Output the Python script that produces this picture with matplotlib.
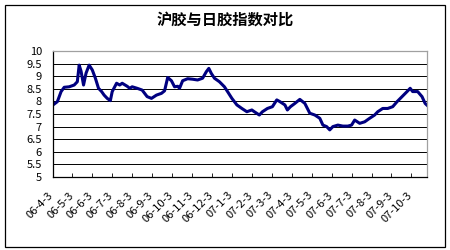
import matplotlib.pyplot as plt
import matplotlib.transforms as mtransforms
from matplotlib.patches import Rectangle
import pandas as pd

plt.rcParams['font.family'] = ['Noto Sans CJK SC', 'DejaVu Sans']

# Ratio
dates = ['2006-03-03', '2006-03-10', '2006-03-16', '2006-03-21', '2006-03-29',
         '2006-04-06', '2006-04-11', '2006-04-14', '2006-04-17', '2006-04-21',
         '2006-04-25', '2006-04-30', '2006-05-05', '2006-05-10', '2006-05-15',
         '2006-05-20', '2006-05-24', '2006-05-29', '2006-06-03', '2006-06-06',
         '2006-06-13', '2006-06-18', '2006-06-22', '2006-06-30', '2006-07-04',
         '2006-07-08', '2006-07-16', '2006-07-24', '2006-08-01', '2006-08-08',
         '2006-08-16', '2006-08-24', '2006-08-29', '2006-09-03', '2006-09-09',
         '2006-09-14', '2006-09-19', '2006-09-22', '2006-09-27', '2006-10-05',
         '2006-10-13', '2006-10-21', '2006-10-29', '2006-11-04', '2006-11-08',
         '2006-11-12', '2006-11-17', '2006-11-25', '2006-12-03', '2006-12-08',
         '2006-12-15', '2006-12-23', '2006-12-31', '2007-01-08', '2007-01-16',
         '2007-01-20', '2007-01-28', '2007-02-02', '2007-02-10', '2007-02-18',
         '2007-02-25', '2007-03-02', '2007-03-10', '2007-03-14', '2007-03-19',
         '2007-03-26', '2007-04-03', '2007-04-11', '2007-04-19', '2007-04-27',
         '2007-05-05', '2007-05-10', '2007-05-16', '2007-05-21', '2007-05-26',
         '2007-06-03', '2007-06-11', '2007-06-19', '2007-06-25', '2007-06-30',
         '2007-07-08', '2007-07-16', '2007-07-24', '2007-08-01', '2007-08-06',
         '2007-08-14', '2007-08-22', '2007-08-30', '2007-09-06', '2007-09-14',
         '2007-09-22', '2007-09-27', '2007-10-01', '2007-10-09', '2007-10-16',
         '2007-10-21', '2007-10-24']
ratio = [7.86, 7.99, 8.39, 8.56, 8.58,
         8.65, 8.78, 9.44, 9.20, 8.65,
         9.12, 9.44, 9.25, 8.92, 8.52,
         8.39, 8.25, 8.12, 8.03, 8.39,
         8.72, 8.65, 8.72, 8.60, 8.52,
         8.58, 8.52, 8.45, 8.19, 8.12,
         8.25, 8.32, 8.42, 8.95, 8.82,
         8.58, 8.60, 8.52, 8.82, 8.90,
         8.88, 8.85, 8.92, 9.18, 9.31,
         9.11, 8.92, 8.78, 8.58, 8.39,
         8.12, 7.86, 7.72, 7.59, 7.66,
         7.59, 7.46, 7.59, 7.72, 7.79,
         8.06, 7.99, 7.86, 7.66, 7.79,
         7.92, 8.08, 7.92, 7.53, 7.46,
         7.33, 7.06, 7.00, 6.87, 7.00,
         7.06, 7.02, 7.02, 7.06, 7.26,
         7.13, 7.19, 7.33, 7.46, 7.59,
         7.72, 7.72, 7.79, 7.99, 8.19,
         8.39, 8.52, 8.39, 8.39, 8.19,
         7.92, 7.85]

tick_labels = ['06-4-3', '06-5-3', '06-6-3', '06-7-3', '06-8-3', '06-9-3',
               '06-10-3', '06-11-3', '06-12-3', '07-1-3', '07-2-3', '07-3-3',
               '07-4-3', '07-5-3', '07-6-3', '07-7-3', '07-8-3', '07-9-3',
               '07-10-3']
y_ticks = [5, 5.5, 6, 6.5, 7, 7.5, 8, 8.5, 9, 9.5, 10]

x = pd.to_datetime(dates)
# the original category axis spaces its labels evenly (about 32 days apart)
label_pos = pd.date_range('2006-04-03', periods=len(tick_labels), freq='32D')

fig = plt.figure(figsize=(4.5, 2.5), dpi=100)
ax = fig.add_axes([53 / 450, 1 - 177 / 250, 374 / 450, 126 / 250])

ax.plot(x, ratio, color='#000080', linewidth=2.2)

ax.set_xlim(pd.Timestamp('2006-03-03'), pd.Timestamp('2007-10-24'))
ax.set_ylim(5, 10)
ax.set_yticks(y_ticks)
ax.set_yticklabels(['%g' % v for v in y_ticks])
ax.yaxis.grid(True, color='black', linewidth=0.7)
ax.set_axisbelow(True)

ax.set_xticks(label_pos[:-1])
ax.set_xticklabels([])
ax.tick_params(axis='x', direction='in', length=3, width=0.6)
ax.tick_params(axis='y', length=0, pad=8, labelsize=8)

# rotated labels sit below and to the left of each tick
trans = mtransforms.blended_transform_factory(ax.transData, ax.transAxes)
offset = mtransforms.ScaledTranslation(-24 / 100, -13 / 100, fig.dpi_scale_trans)
for pos, lab in zip(label_pos, tick_labels):
    ax.text(pos, 0, lab, transform=trans + offset, rotation=45,
            ha='right', va='top', rotation_mode='anchor', fontsize=8,
            clip_on=False)

for side in ['top', 'right']:
    ax.spines[side].set_color('#a0a0a0')
for side in ['left', 'bottom']:
    ax.spines[side].set_color('black')
for s in ax.spines.values():
    s.set_linewidth(0.9)

fig.text(0.5, 1 - 20 / 250, '沪胶与日胶指数对比', ha='center', va='center',
         fontsize=11, fontweight='bold')

fig.patches.append(Rectangle((5 / 450, 3 / 250), 440 / 450, 242 / 250,
                             transform=fig.transFigure, fill=False,
                             edgecolor='black', linewidth=0.9))

fig.savefig('out.png', dpi=100)
